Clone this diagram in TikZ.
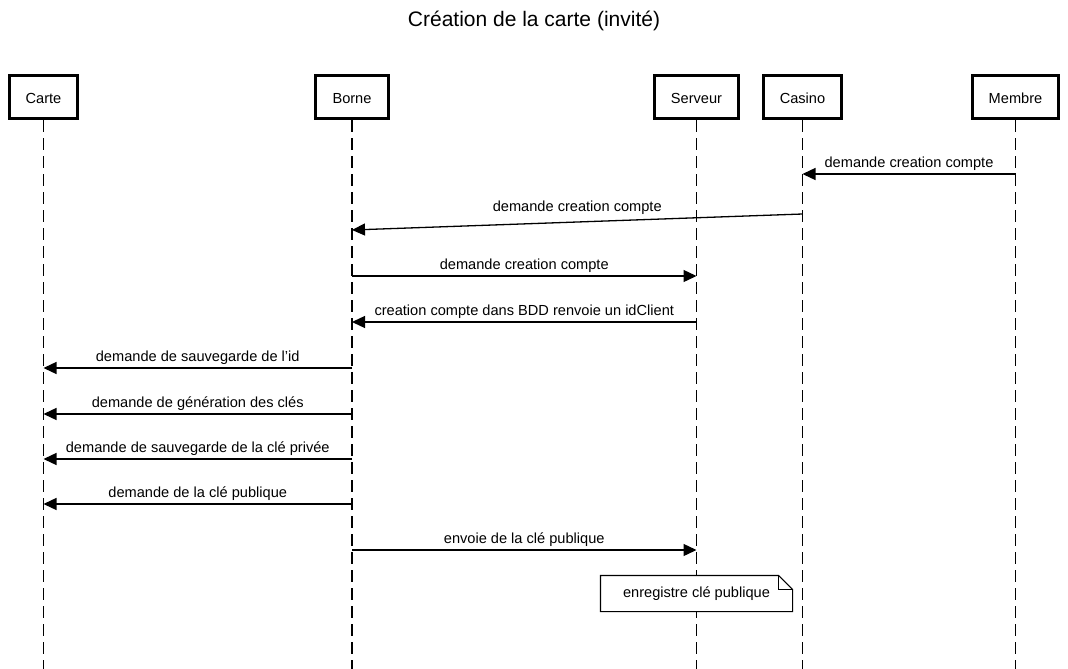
\documentclass[tikz,border=0pt]{standalone}
\usepackage{fontspec}
\setmainfont{Liberation Sans}
\usetikzlibrary{arrows.meta}
\newcommand\lblfont{\fontsize{14.6}{17}\selectfont}
\begin{document}
\begin{tikzpicture}[x=1pt,y=-1pt,
  actor/.style={draw, line width=2.6pt, minimum width=#1, minimum height=43.4pt, inner sep=0pt, font=\lblfont, fill=white, text height=13.2pt, text depth=0.5pt},
  lifeline/.style={line width=1.6pt, dash pattern=on 12pt off 6pt},
  msg/.style={line width=1.3pt, -{Triangle[length=13pt,width=12pt]}},
  lab/.style={font=\lblfont, inner sep=3pt, midway, above, text height=10.6pt, text depth=3.1pt},
  notebox/.style={font=\lblfont, inner sep=0pt, minimum width=191.7pt, minimum height=35.7pt, fill=white, text height=10.6pt, text depth=3.1pt},
]
\useasboundingbox (0,0) rectangle (1068,669);

\node[font=\fontsize{21}{25}\selectfont, inner sep=0pt] (title) at (534,21) {Création de la carte (invité)};

% participants
\node[actor=68.4pt] (carte) at (43.5,97) {Carte};
\node[actor=73.4pt] (borne) at (352,97) {Borne};
\node[actor=84.4pt] (serveur) at (696.5,97) {Serveur};
\node[actor=78.4pt] (casino) at (802.5,97) {Casino};
\node[actor=86.4pt] (membre) at (1015.5,97) {Membre};

% lifeline ends
\coordinate (carteEnd) at (43.5,669);
\coordinate (borneEnd) at (352,669);
\coordinate (serveurEnd) at (696.5,669);
\coordinate (casinoEnd) at (802.5,669);
\coordinate (membreEnd) at (1015.5,669);

\draw[lifeline] (carte) -- (carteEnd);
\draw[lifeline] (borne) -- (borneEnd);
\draw[lifeline] (serveur) -- (serveurEnd);
\draw[lifeline] (casino) -- (casinoEnd);
\draw[lifeline] (membre) -- (membreEnd);

% message anchor points
\coordinate (m1s) at (1015.5,174);  \coordinate (m1e) at (802.5,174);
\coordinate (m2s) at (802.5,214);   \coordinate (m2e) at (352,230);
\coordinate (m3s) at (352,276);     \coordinate (m3e) at (696.5,276);
\coordinate (m4s) at (696.5,322);   \coordinate (m4e) at (352,322);
\coordinate (m5s) at (352,368);     \coordinate (m5e) at (43.5,368);
\coordinate (m6s) at (352,414);     \coordinate (m6e) at (43.5,414);
\coordinate (m7s) at (352,459);     \coordinate (m7e) at (43.5,459);
\coordinate (m8s) at (352,504);     \coordinate (m8e) at (43.5,504);
\coordinate (m9s) at (352,550);     \coordinate (m9e) at (696.5,550);

\draw[msg] (m1s) -- node[lab] (l1) {demande creation compte} (m1e);
\draw[msg] (m2s) -- node[lab, above=4pt] (l2) {demande creation compte} (m2e);
\draw[msg] (m3s) -- node[lab] (l3) {demande creation compte} (m3e);
\draw[msg] (m4s) -- node[lab] (l4) {creation compte dans BDD renvoie un idClient} (m4e);
\draw[msg] (m5s) -- node[lab] (l5) {demande de sauvegarde de l’id} (m5e);
\draw[msg] (m6s) -- node[lab] (l6) {demande de génération des clés} (m6e);
\draw[msg] (m7s) -- node[lab] (l7) {demande de sauvegarde de la clé privée} (m7e);
\draw[msg] (m8s) -- node[lab] (l8) {demande de la clé publique} (m8e);
\draw[msg] (m9s) -- node[lab] (l9) {envoie de la clé publique} (m9e);

% note
\node[notebox] (note) at (696.5,593.5) {enregistre clé publique};
\draw[line width=1.1pt, line join=miter]
  (note.north west) -- ([xshift=-14pt]note.north east) -- ([yshift=-14pt]note.north east)
  -- (note.south east) -- (note.south west) -- cycle;
\draw[line width=1.1pt]
  ([xshift=-14pt]note.north east) -- ([xshift=-14pt,yshift=-14pt]note.north east)
  -- ([yshift=-14pt]note.north east);
\end{tikzpicture}
\end{document}
